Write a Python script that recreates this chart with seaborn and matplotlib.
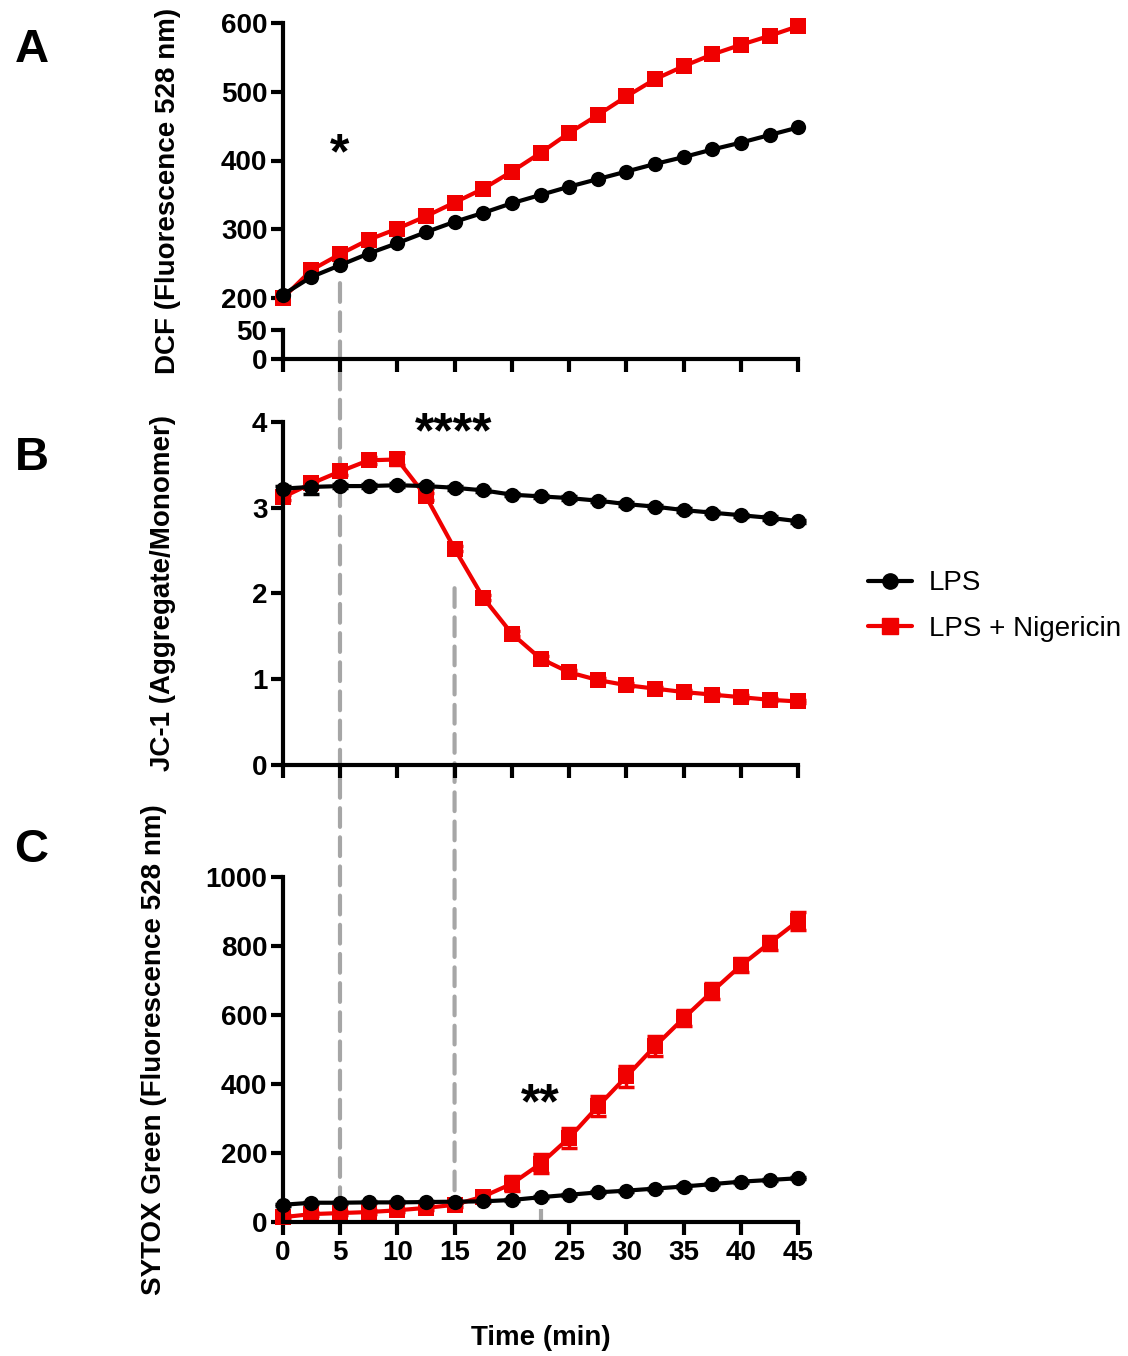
import numpy as np
import pandas as pd
import matplotlib
matplotlib.use("Agg")
import matplotlib.pyplot as plt
from matplotlib.patches import ConnectionPatch
from matplotlib.lines import Line2D
import seaborn as sns

# 绘图风格
sns.set_style("ticks")
plt.rcParams['font.family'] = ['Liberation Sans', 'DejaVu Sans']
plt.rcParams['font.weight'] = 'bold'
plt.rcParams['axes.labelweight'] = 'bold'
for key in ['text.color', 'axes.labelcolor', 'xtick.color', 'ytick.color', 'axes.edgecolor']:
    plt.rcParams[key] = 'black'

LPS = 'LPS'
NIG = 'LPS + Nigericin'
colors = {LPS: 'black', NIG: '#f00000'}
markers = {LPS: 'o', NIG: 's'}

time = [0, 2.5, 5, 7.5, 10, 12.5, 15, 17.5, 20, 22.5, 25, 27.5, 30, 32.5, 35, 37.5, 40, 42.5, 45]

# A: DCF
dcf_lps = [205, 231, 248, 265, 280, 296, 311, 324, 338, 350, 362, 373, 384, 395, 405, 416, 426, 437, 448]
dcf_nig = [200, 241, 264, 285, 301, 319, 339, 359, 384, 411, 440, 466, 493, 518, 537, 554, 568, 581, 595]

# B: JC-1
jc1_lps = [3.22, 3.24, 3.25, 3.25, 3.26, 3.25, 3.23, 3.20, 3.15, 3.13, 3.11, 3.08, 3.04, 3.01, 2.97, 2.94, 2.91, 2.88, 2.84]
jc1_nig = [3.12, 3.28, 3.42, 3.55, 3.56, 3.13, 2.52, 1.95, 1.53, 1.24, 1.08, 0.99, 0.93, 0.89, 0.85, 0.82, 0.79, 0.76, 0.74]
jc1_lps_sem = [0.03, 0.08, 0.02, 0.02, 0.02, 0.02, 0.02, 0.02, 0.02, 0.02, 0.02, 0.02, 0.02, 0.02, 0.02, 0.02, 0.02, 0.02, 0.02]
jc1_nig_sem = [0.03, 0.04, 0.04, 0.04, 0.07, 0.04, 0.03, 0.03, 0.03, 0.03, 0.03, 0.02, 0.02, 0.02, 0.02, 0.02, 0.02, 0.02, 0.02]

# C: SYTOX Green
sytox_lps = [49, 55, 55, 56, 56, 57, 58, 59, 63, 71, 78, 85, 90, 96, 102, 109, 116, 121, 126]
sytox_nig = [13, 22, 25, 28, 33, 40, 49, 73, 110, 168, 243, 334, 421, 509, 590, 668, 743, 808, 872]
sytox_lps_sem = [3, 3, 3, 3, 3, 3, 3, 3, 3, 3, 3, 3, 3, 3, 3, 3, 3, 3, 3]
sytox_nig_sem = [5, 5, 5, 5, 5, 5, 6, 10, 22, 27, 29, 29, 31, 29, 23, 23, 20, 20, 27]


def long_df(lps, nig):
    return pd.DataFrame({'time': time + time,
                         'value': nig + lps,
                         'group': [NIG] * len(time) + [LPS] * len(time)})


def draw_series(ax, lps, nig, lps_sem=None, nig_sem=None):
    # 红线先画, 黑线在上
    for grp, vals, sem in [(NIG, nig, nig_sem), (LPS, lps, lps_sem)]:
        if sem is not None:
            ax.errorbar(time, vals, yerr=sem, fmt='none', ecolor=colors[grp],
                        elinewidth=2.5, capsize=6, capthick=2.5, clip_on=False, zorder=1.9)
    sns.lineplot(data=long_df(lps, nig), x='time', y='value', hue='group', style='group',
                 hue_order=[NIG, LPS], style_order=[NIG, LPS], palette=colors,
                 markers=markers, dashes=False, linewidth=3, markersize=11,
                 markeredgewidth=0, clip_on=False, legend=False, errorbar=None, ax=ax)
    ax.set_xlabel('')
    ax.set_ylabel('')


def style_axis(ax):
    ax.patch.set_visible(False)
    for s in ['left', 'bottom']:
        ax.spines[s].set_linewidth(3)
    ax.tick_params(width=3, length=9, labelsize=20, pad=2)
    ax.set_xlim(0, 45)
    sns.despine(ax=ax)


W, H = 1128, 1356
fig = plt.figure(figsize=(W / 100, H / 100), dpi=100)
x0, x1 = 282.7, 798.3


def rect(top, bottom):
    return [x0 / W, 1 - bottom / H, (x1 - x0) / W, (bottom - top) / H]


ax_a = fig.add_axes(rect(22.7, 298.3))
ax_a0 = fig.add_axes(rect(330.0, 359.3))
ax_b = fig.add_axes(rect(421.7, 765.0))
ax_c = fig.add_axes(rect(876.7, 1221.7))

xt = [0, 5, 10, 15, 20, 25, 30, 35, 40, 45]

# A
draw_series(ax_a, dcf_lps, dcf_nig)
style_axis(ax_a)
ax_a.set_ylim(200, 600)
ax_a.set_yticks([200, 300, 400, 500, 600])
ax_a.spines['bottom'].set_visible(False)
ax_a.set_xticks([])

style_axis(ax_a0)
ax_a0.set_ylim(0, 50)
ax_a0.set_yticks([0, 50])
ax_a0.set_xticks(xt)
ax_a0.set_xticklabels([])

# B
draw_series(ax_b, jc1_lps, jc1_nig, jc1_lps_sem, jc1_nig_sem)
style_axis(ax_b)
ax_b.set_ylim(0, 4)
ax_b.set_yticks([0, 1, 2, 3, 4])
ax_b.set_xticks(xt)
ax_b.set_xticklabels([])

# C
draw_series(ax_c, sytox_lps, sytox_nig, sytox_lps_sem, sytox_nig_sem)
style_axis(ax_c)
ax_c.set_ylim(0, 1000)
ax_c.set_yticks([0, 200, 400, 600, 800, 1000])
ax_c.set_xticks(xt)
ax_c.tick_params(axis='x', pad=4)

# 轴标签
ax_a.set_ylabel('DCF (Fluorescence 528 nm)', fontsize=20)
ax_a.yaxis.set_label_coords(-0.197, 0.389)
ax_b.set_ylabel('JC-1 (Aggregate/Monomer)', fontsize=20)
ax_b.yaxis.set_label_coords(-0.207, 0.5)
ax_c.set_ylabel('SYTOX Green (Fluorescence 528 nm)', fontsize=20)
ax_c.yaxis.set_label_coords(-0.224, 0.5)
ax_c.set_xlabel('Time (min)', fontsize=20)
ax_c.xaxis.set_label_coords(0.5, -0.30)

# 面板字母
for letter, ypix in [('A', 50), ('B', 458), ('C', 850)]:
    fig.text(31.5 / W, 1 - ypix / H, letter, fontsize=34, fontweight='bold', ha='center', va='center')

# 显著性星号
star_kw = dict(fontsize=36, fontweight='bold', ha='center', va='center')
ax_a.text(5, 408, '*', **star_kw)
ax_b.text(14.9, 3.85, '****', **star_kw)
ax_c.text(22.45, 338, '**', **star_kw)

# 灰色虚线
dash_style = dict(color='#a6a6a6', lw=3, linestyle=(0, (4.5, 2.5)), zorder=-1)
fig.add_artist(ConnectionPatch(xyA=(5, 222), coordsA=ax_a.transData,
                               xyB=(5, 55), coordsB=ax_c.transData, **dash_style))
fig.add_artist(ConnectionPatch(xyA=(15, 2.06), coordsA=ax_b.transData,
                               xyB=(15, 58), coordsB=ax_c.transData, **dash_style))
ax_c.plot([22.5, 22.5], [38, 0], color='#a6a6a6', lw=3, linestyle=(0, (4.5, 2.5)), zorder=1)

# 图例
handles = [Line2D([], [], color=colors[g], marker=markers[g], lw=3, markersize=11) for g in [LPS, NIG]]
fig.legend(handles, [LPS, NIG], loc='center left', bbox_to_anchor=(868 / W, 1 - 606 / H),
           frameon=False, prop={'weight': 'normal', 'size': 20}, handlelength=1.6,
           handletextpad=0.6, labelspacing=0.7, borderpad=0, borderaxespad=0)

fig.savefig('out.png', dpi=100)
